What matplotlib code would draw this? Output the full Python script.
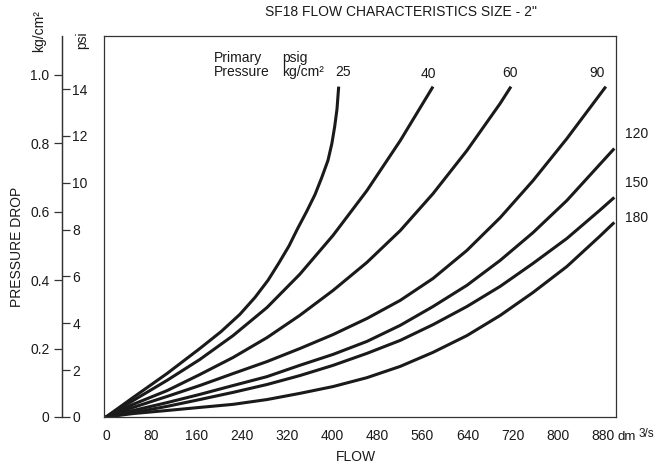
import matplotlib
matplotlib.use("Agg")
import matplotlib.pyplot as plt

plt.rcParams["font.family"] = ["Liberation Sans", "DejaVu Sans"]
plt.rcParams["font.size"] = 10

# flow (dm3/s) and pressure drop (kg/cm2), one pair per curve
flow_25 = [0, 48, 108, 166, 204, 237, 264, 287, 306, 324, 339, 355, 370, 382, 393, 400, 405, 409, 412]
drop_25 = [0, 0.057, 0.127, 0.200, 0.250, 0.300, 0.350, 0.400, 0.450, 0.500, 0.550, 0.600,
           0.650, 0.700, 0.750, 0.800, 0.850, 0.900, 0.966]

flow_40 = [0, 48, 108, 166, 225, 285, 343, 402, 462, 521, 579]
drop_40 = [0, 0.048, 0.107, 0.168, 0.238, 0.320, 0.417, 0.531, 0.662, 0.808, 0.966]

flow_60 = [0, 48, 108, 166, 225, 285, 343, 402, 462, 521, 579, 639, 698, 717]
drop_60 = [0, 0.037, 0.077, 0.124, 0.174, 0.232, 0.297, 0.370, 0.452, 0.545, 0.653, 0.779, 0.917, 0.966]

flow_90 = [0, 48, 108, 166, 225, 285, 343, 402, 462, 521, 579, 639, 698, 756, 816, 885]
drop_90 = [0, 0.028, 0.060, 0.092, 0.127, 0.162, 0.200, 0.241, 0.288, 0.341, 0.405, 0.487,
           0.583, 0.691, 0.814, 0.966]

flow_120 = [0, 48, 108, 166, 225, 285, 343, 402, 462, 521, 579, 639, 698, 756, 816, 874, 900]
drop_120 = [0, 0.019, 0.042, 0.066, 0.092, 0.118, 0.151, 0.183, 0.221, 0.268, 0.323, 0.385,
            0.458, 0.539, 0.633, 0.738, 0.785]

flow_150 = [0, 48, 108, 166, 225, 285, 343, 402, 462, 521, 579, 639, 698, 756, 816, 874, 900]
drop_150 = [0, 0.013, 0.031, 0.051, 0.072, 0.095, 0.121, 0.151, 0.186, 0.224, 0.270, 0.323,
            0.382, 0.449, 0.522, 0.604, 0.642]

flow_180 = [0, 48, 108, 166, 225, 285, 343, 402, 462, 521, 579, 639, 698, 756, 816, 874, 900]
drop_180 = [0, 0.010, 0.019, 0.028, 0.037, 0.051, 0.069, 0.089, 0.115, 0.148, 0.189, 0.238,
            0.297, 0.364, 0.440, 0.528, 0.569]

curve_names = ["25", "40", "60", "90", "120", "150", "180"]
flow_ticks = list(range(0, 881, 80))
kg_ticks = [0, 0.2, 0.4, 0.6, 0.8, 1.0]
kg_labels = ["0", "0.2", "0.4", "0.6", "0.8", "1.0"]
psi_ticks = [0, 2, 4, 6, 8, 10, 12, 14]
kg_per_psi = 0.0685  # as drawn on the chart's double scale

ink = "#1a1a1a"

fig = plt.figure(figsize=(6.56, 4.68), dpi=100)
ax = fig.add_axes([104 / 656, 1 - 417 / 468, 512 / 656, 381 / 468])

curves = [
    (flow_25, drop_25), (flow_40, drop_40), (flow_60, drop_60), (flow_90, drop_90),
    (flow_120, drop_120), (flow_150, drop_150), (flow_180, drop_180),
]
for fl, dp in curves:
    ax.plot(fl, dp, color=ink, lw=2.2, solid_joinstyle="round", solid_capstyle="butt")

ax.set_xlim(-3.5, 903)
ax.set_ylim(0, 1.114)
ax.set_xticks(flow_ticks)
ax.set_xticklabels([str(v) for v in flow_ticks])
ax.tick_params(axis="x", length=0, pad=9, labelcolor=ink)
ax.set_yticks([])
for s in ax.spines.values():
    s.set_linewidth(0.9)
    s.set_color("#333333")

# the separate kg/cm2 + psi scale left of the box
kg_ax = ax.secondary_yaxis(-42 / 512)
kg_ax.set_yticks(kg_ticks)
kg_ax.set_yticklabels(kg_labels)
kg_ax.tick_params(length=6, width=0.9, pad=3, labelcolor=ink, color="#333333")
kg_ax.spines["left"].set_linewidth(0.9)
kg_ax.spines["left"].set_color("#333333")

psi_ax = ax.secondary_yaxis(-42 / 512, functions=(lambda k: k / kg_per_psi, lambda p: p * kg_per_psi))
psi_ax.set_alignment("right")
psi_ax.set_yticks(psi_ticks)
psi_ax.tick_params(length=6, width=0.9, pad=1.5, labelcolor=ink, color="#333333")
psi_ax.spines["right"].set_linewidth(0.9)
psi_ax.spines["right"].set_color("#333333")

# curve labels (primary pressure, psig)
label_pos = [(420, 1.010), (570, 1.004), (715, 1.007), (869, 1.007),
             (940, 0.826), (940, 0.683), (940, 0.583)]
for name, (lx, ly) in zip(curve_names, label_pos):
    ax.text(lx, ly, name, ha="center", va="center", color=ink, clip_on=False)

ax.text(191, 1.051, "Primary", ha="left", va="center", color=ink)
ax.text(191, 1.010, "Pressure", ha="left", va="center", color=ink)
ax.text(312, 1.051, "psig", ha="left", va="center", color=ink)
ax.text(312, 1.010, "kg/cm²", ha="left", va="center", color=ink)

fig.text(401 / 656, 1 - 12 / 468, 'SF18 FLOW CHARACTERISTICS SIZE - 2"', ha="center", va="center", color=ink)
fig.text(356 / 656, 1 - 457 / 468, "FLOW", ha="center", va="center", color=ink)
fig.text(17 / 656, 1 - 247 / 468, "PRESSURE DROP", ha="center", va="center", rotation=90, color=ink)
fig.text(39 / 656, 1 - 31 / 468, "kg/cm²", ha="center", va="center", rotation=90, color=ink)
fig.text(82 / 656, 1 - 40 / 468, "psi", ha="center", va="center", rotation=90, color=ink)
fig.text(617 / 656, 1 - 437 / 468, "dm", ha="left", va="center", color=ink, fontsize=9.5)
fig.text(639 / 656, 1 - 434 / 468, "3/s", ha="left", va="center", color=ink, fontsize=8.5)

fig.savefig("out.png", dpi=100)
